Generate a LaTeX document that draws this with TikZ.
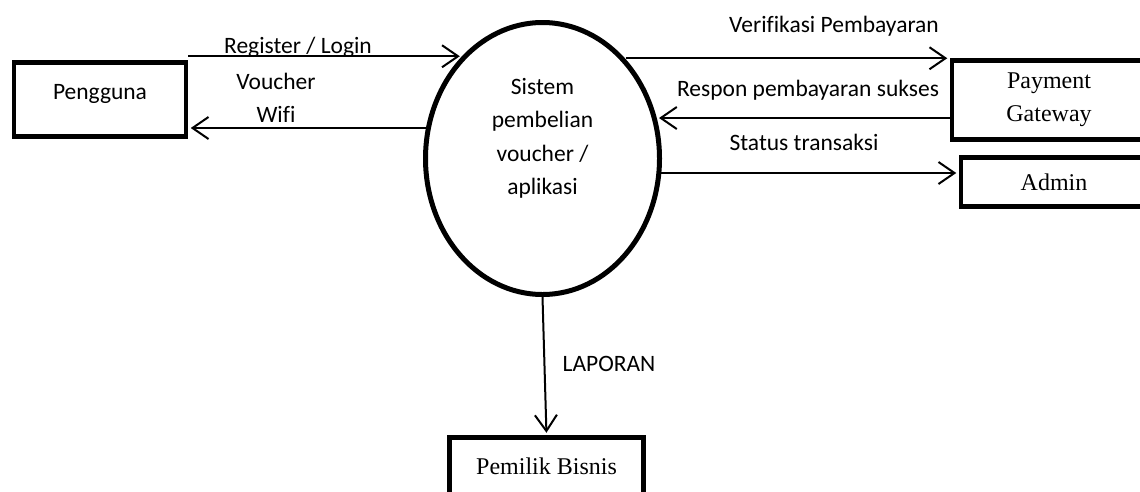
\documentclass[tikz,border=0pt]{standalone}
\usepackage{fontspec}
\setmainfont{Liberation Serif}
\setsansfont[Ligatures=NoCommon]{Carlito}
\usetikzlibrary{shapes.geometric,arrows.meta}

\begin{document}
\begin{tikzpicture}[x=1pt,y=-1pt,
        kotak/.style={draw,rectangle,line width=4.5pt,inner sep=0pt,align=center,font=\fontsize{24}{33}\selectfont},
        proses/.style={draw,ellipse,line width=5pt,inner sep=0pt},
        teks/.style={font=\sffamily\fontsize{23.5}{33.5}\selectfont,align=center,inner sep=0pt},
        alur/.style={line width=2pt,-{Straight Barb[length=16pt,width=22pt]},shorten >=2.5pt}]
        \useasboundingbox (0,0) rectangle (1140,491);

        \node[proses,minimum width=234pt,minimum height=272pt] (sistem) at (542.5,158.5)
            [label={[teks,yshift=20pt]center:Sistem\\pembelian\\voucher /\\aplikasi}] {};
        \node[kotak,minimum width=172pt,minimum height=74pt,font=\sffamily\fontsize{23.5}{33}\selectfont,text depth=16pt] (pengguna) at (100,99.5) {Pengguna};
        \node[kotak,minimum width=194pt,minimum height=79pt] (payment) at (1049,100) {Payment\\Gateway};
        \node[kotak,minimum width=186pt,minimum height=49pt] (admin) at (1054,182) {Admin};
        \node[kotak,minimum width=194pt,minimum height=57pt] (pemilik) at (546.5,466) {Pemilik Bisnis};

        % label alur
        \node[teks] (lregister) at (298,47) {Register / Login};
        \node[teks] (lvoucher) at (276,98) {Voucher\\Wifi};
        \node[teks] (lverifikasi) at (834,26) {Verifikasi Pembayaran};
        \node[teks] (lrespon) at (808,90) {Respon pembayaran sukses};
        \node[teks] (lstatus) at (804,142) {Status transaksi};
        \node[teks] (llaporan) at (609,364) {LAPORAN};

        \draw[alur] ([yshift=4pt]pengguna.north east) -- ([yshift=4pt]pengguna.north east -| sistem.128);
        \draw[alur] ([yshift=-28.5pt]pengguna.east -| sistem.195) -- ([yshift=-28.5pt]pengguna.east);
        \draw[alur] (payment.north west -| sistem.50) -- (payment.north west);
        \draw[alur] ([yshift=-18pt]payment.west) -- ([yshift=-18pt]payment.west -| sistem.20);
        \draw[alur] ([yshift=9pt]admin.west -| sistem.-7) -- ([yshift=9pt]admin.west);
        \draw[alur] (sistem.south) -- (pemilik.north);
\end{tikzpicture}
\end{document}
